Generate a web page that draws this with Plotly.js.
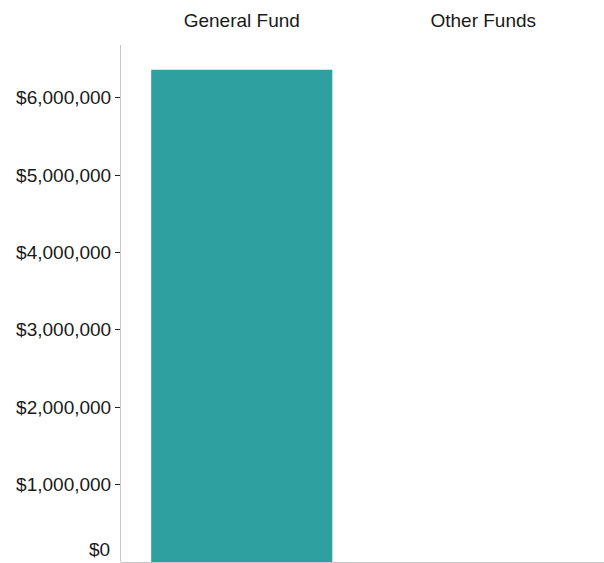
<!DOCTYPE html>
<html>
<head>
<meta charset="utf-8">
<script src="https://cdn.plot.ly/plotly-3.0.1.min.js"></script>
<style>
html,body{margin:0;padding:0;background:#fff;}
#chart{width:604px;height:563px;}
</style>
</head>
<body>
<div id="chart"></div>
<script>
const categories = ["General Fund", "Other Funds"];
const values = [6360000, 0];
const tickValues = [1000000, 2000000, 3000000, 4000000, 5000000, 6000000];
const tickLabels = ["$1,000,000", "$2,000,000", "$3,000,000", "$4,000,000", "$5,000,000", "$6,000,000"];
const zeroLabel = "$0";

const fontFamily = "'Liberation Sans', Arial, sans-serif";
const fsize = 19;
const fcolor = "#1a1a1a";

Plotly.newPlot("chart", [{
  type: "bar",
  x: categories,
  y: values,
  marker: {color: "#2da09f"},
  hoverinfo: "none"
}], {
  width: 604,
  height: 563,
  margin: {l: 121, r: 0, t: 45, b: 1, pad: 0},
  paper_bgcolor: "#fff",
  plot_bgcolor: "#fff",
  bargap: 0.25,
  showlegend: false,
  font: {family: fontFamily, size: fsize, color: fcolor},
  xaxis: {
    side: "top",
    type: "category",
    showline: false,
    showgrid: false,
    zeroline: false,
    ticks: "",
    ticklabelstandoff: 13,
    tickfont: {family: fontFamily, size: fsize, color: fcolor}
  },
  yaxis: {
    range: [0, 6680000],
    showline: true,
    linecolor: "#c8c8c8",
    linewidth: 1,
    showgrid: false,
    zeroline: true,
    zerolinecolor: "#c8c8c8",
    zerolinewidth: 1,
    ticks: "outside",
    ticklen: 5,
    tickcolor: "#222",
    tickvals: tickValues,
    ticktext: tickLabels,
    tickfont: {family: fontFamily, size: fsize, color: fcolor}
  },
  annotations: [{
    xref: "paper", yref: "paper",
    x: 0, y: 0,
    xanchor: "right", yanchor: "bottom",
    xshift: -9, yshift: 0,
    text: zeroLabel,
    showarrow: false,
    font: {family: fontFamily, size: fsize, color: fcolor}
  }]
}, {staticPlot: true, displayModeBar: false});
</script>
</body>
</html>
